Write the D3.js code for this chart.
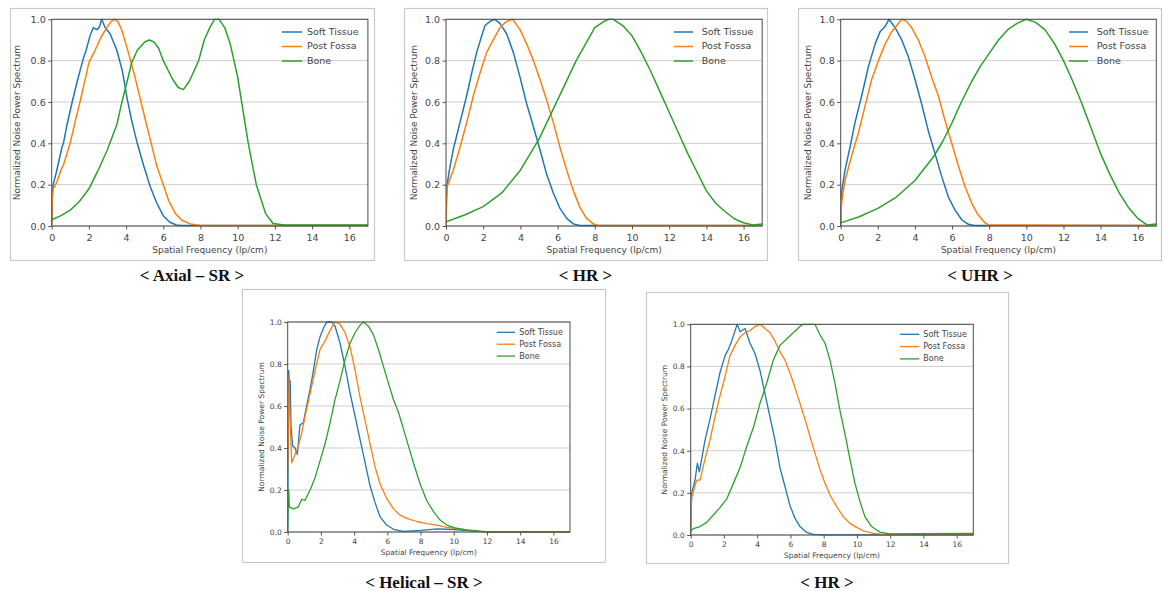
<!DOCTYPE html>
<html><head><meta charset="utf-8">
<script src="https://cdn.jsdelivr.net/npm/d3@7"></script>
<style>body{margin:0;background:#fff} svg{display:block}</style>
</head><body>
<svg id="c" width="1163" height="591"></svg>
<script>
// ---------- DATA ----------
const seriesNames = ["Soft Tissue", "Post Fossa", "Bone"];
const freqTicks = [0, 2, 4, 6, 8, 10, 12, 14, 16];
const nnpsTicks = [0, 0.2, 0.4, 0.6, 0.8, 1.0];
const captions = ["< Axial \u2013 SR >", "< HR >", "< UHR >", "< Helical \u2013 SR >", "< HR >"];
const xLabel = "Spatial Frequency (lp/cm)";
const yLabel = "Normalized Noise Power Spectrum";

// [spatial frequency (lp/cm), normalized NPS]
const axialSoft = [[0,0],[0.03,0.15],[0.08,0.2],[0.25,0.26],[0.45,0.34],[0.55,0.38],[0.63,0.4],[0.8,0.48],[1.1,0.6],[1.4,0.71],[1.7,0.81],[1.85,0.85],[2.06,0.92],[2.24,0.96],[2.42,0.95],[2.55,0.96],[2.69,1.0],[2.87,0.96],[3.14,0.93],[3.5,0.85],[3.8,0.75],[4.05,0.62],[4.3,0.51],[4.6,0.4],[4.95,0.29],[5.3,0.19],[5.65,0.11],[6.0,0.05],[6.35,0.018],[6.7,0.005],[7,0.002],[17,0.002]];
const axialFossa = [[0,0],[0.03,0.14],[0.08,0.18],[0.27,0.21],[0.5,0.27],[0.65,0.3],[0.99,0.4],[1.3,0.52],[1.52,0.6],[1.75,0.69],[2.0,0.79],[2.33,0.85],[2.69,0.92],[2.96,0.96],[3.2,0.99],[3.38,1.0],[3.55,0.99],[3.76,0.95],[4.12,0.84],[4.48,0.72],[4.8,0.6],[5.1,0.49],[5.35,0.4],[5.65,0.29],[6.0,0.2],[6.3,0.12],[6.65,0.06],[7.0,0.028],[7.45,0.01],[8,0.002],[17,0.002]];
const axialBone = [[0,0.03],[0.5,0.05],[1,0.077],[1.5,0.12],[2,0.18],[2.5,0.27],[3,0.37],[3.5,0.49],[3.75,0.59],[4,0.68],[4.3,0.79],[4.6,0.85],[5,0.89],[5.25,0.9],[5.5,0.89],[5.75,0.86],[6,0.8],[6.5,0.71],[6.8,0.67],[7.08,0.66],[7.4,0.7],[7.65,0.75],[7.9,0.8],[8.2,0.9],[8.5,0.96],[8.75,1.0],[9.0,1.0],[9.3,0.96],[9.6,0.88],[10,0.72],[10.3,0.55],[10.57,0.4],[11,0.2],[11.5,0.06],[11.9,0.012],[12.5,0.005],[17,0.005]];

const hrSoft = [[0,0],[0.03,0.14],[0.06,0.2],[0.22,0.29],[0.39,0.37],[0.75,0.5],[1.11,0.63],[1.38,0.74],[1.65,0.84],[1.92,0.92],[2.1,0.97],[2.37,0.99],[2.63,1.0],[2.9,0.98],[3.26,0.93],[3.62,0.84],[3.98,0.72],[4.34,0.59],[4.7,0.48],[5.05,0.37],[5.41,0.25],[5.77,0.16],[6.13,0.085],[6.49,0.037],[6.85,0.01],[7.2,0.002],[17,0.002]];
const hrFossa = [[0,0],[0.03,0.13],[0.06,0.19],[0.39,0.27],[0.75,0.38],[1.11,0.5],[1.47,0.63],[1.83,0.74],[2.19,0.84],[2.54,0.9],[2.9,0.96],[3.26,0.99],[3.58,1.0],[3.98,0.95],[4.34,0.88],[4.7,0.8],[5.05,0.71],[5.41,0.61],[5.77,0.5],[6.13,0.38],[6.49,0.27],[6.85,0.17],[7.2,0.09],[7.56,0.037],[7.92,0.01],[8.2,0.002],[17,0.002]];
const hrBone = [[0,0.02],[1,0.053],[2,0.094],[3,0.16],[4,0.27],[5,0.42],[6,0.61],[7,0.8],[7.5,0.88],[8,0.96],[8.5,0.99],[8.75,1.0],[9,1.0],[9.5,0.97],[10,0.92],[10.5,0.84],[11,0.75],[11.5,0.65],[12,0.55],[12.5,0.45],[13,0.35],[13.5,0.26],[14,0.17],[14.5,0.11],[15,0.07],[15.5,0.035],[16,0.016],[16.5,0.005],[17,0.01]];

const uhrSoft = [[0,0],[0.03,0.12],[0.06,0.17],[0.23,0.27],[0.5,0.38],[0.77,0.5],[1.13,0.63],[1.49,0.77],[1.85,0.88],[2.12,0.94],[2.39,0.965],[2.6,1.0],[2.93,0.96],[3.29,0.9],[3.64,0.82],[4.0,0.71],[4.36,0.59],[4.72,0.46],[5.08,0.35],[5.44,0.24],[5.8,0.14],[6.16,0.077],[6.52,0.03],[6.88,0.008],[7.2,0.002],[17,0.002]];
const uhrFossa = [[0,0],[0.03,0.08],[0.06,0.12],[0.23,0.22],[0.59,0.34],[0.95,0.45],[1.31,0.58],[1.67,0.71],[2.03,0.8],[2.39,0.88],[2.75,0.94],[3.02,0.97],[3.29,1.0],[3.55,0.99],[3.82,0.96],[4.18,0.9],[4.54,0.82],[4.9,0.72],[5.26,0.63],[5.62,0.51],[5.98,0.4],[6.34,0.29],[6.7,0.19],[7.06,0.11],[7.41,0.053],[7.77,0.016],[7.95,0.005],[17,0.002]];
const uhrBone = [[0,0.015],[1,0.045],[2,0.085],[3,0.14],[4,0.22],[5,0.335],[5.5,0.41],[6,0.5],[6.5,0.6],[7,0.69],[7.5,0.77],[8,0.835],[8.5,0.9],[9,0.95],[9.5,0.98],[10,1.0],[10.5,0.985],[11,0.95],[11.5,0.885],[12,0.8],[12.5,0.7],[13,0.59],[13.5,0.47],[14,0.35],[14.5,0.25],[15,0.16],[15.5,0.09],[16,0.037],[16.5,0.005],[17,0.01]];

const helicalSoft = [[0,0],[0.03,0.5],[0.06,0.77],[0.1,0.7],[0.15,0.72],[0.2,0.5],[0.3,0.41],[0.44,0.4],[0.58,0.37],[0.74,0.51],[0.94,0.52],[1.14,0.6],[1.35,0.68],[1.55,0.77],[1.75,0.87],[1.95,0.93],[2.15,0.97],[2.35,1.0],[2.65,1.0],[2.85,0.98],[3.15,0.9],[3.45,0.79],[3.76,0.66],[4.06,0.55],[4.36,0.44],[4.66,0.33],[4.96,0.22],[5.26,0.14],[5.56,0.073],[5.96,0.033],[6.37,0.013],[6.97,0.003],[8,0.008],[9,0.015],[10,0.012],[11,0.005],[12,0.001],[17,0.001]];
const helicalFossa = [[0,0.3],[0.05,0.6],[0.08,0.75],[0.13,0.55],[0.24,0.33],[0.44,0.37],[0.64,0.41],[0.84,0.47],[1.04,0.55],[1.35,0.66],[1.65,0.77],[1.95,0.87],[2.25,0.91],[2.55,0.96],[2.85,1.0],[3.15,0.99],[3.45,0.95],[3.76,0.88],[4.06,0.77],[4.36,0.64],[4.66,0.53],[4.96,0.42],[5.26,0.31],[5.56,0.23],[5.96,0.16],[6.37,0.11],[6.77,0.08],[7.17,0.065],[7.77,0.05],[8.37,0.04],[8.98,0.033],[9.58,0.022],[10.18,0.016],[10.78,0.01],[11.5,0.004],[12,0.001],[17,0.001]];
const helicalBone = [[0,0],[0.03,0.15],[0.06,0.2],[0.1,0.12],[0.34,0.11],[0.64,0.12],[0.84,0.155],[1.04,0.15],[1.35,0.2],[1.65,0.26],[1.95,0.34],[2.25,0.42],[2.55,0.52],[2.85,0.63],[3.15,0.72],[3.45,0.82],[3.76,0.9],[4.06,0.95],[4.36,0.985],[4.56,1.0],[4.86,0.98],[5.16,0.94],[5.46,0.87],[5.76,0.79],[6.06,0.71],[6.37,0.63],[6.67,0.57],[6.97,0.49],[7.27,0.41],[7.57,0.33],[7.97,0.23],[8.37,0.15],[8.78,0.097],[9.18,0.057],[9.58,0.033],[10.08,0.02],[10.78,0.01],[11.5,0.004],[12,0.001],[17,0.001]];

const hr2Soft = [[0,0],[0.03,0.12],[0.06,0.2],[0.26,0.26],[0.4,0.34],[0.52,0.3],[0.66,0.36],[0.86,0.45],[1.16,0.55],[1.46,0.66],[1.76,0.77],[2.06,0.85],[2.26,0.88],[2.46,0.92],[2.67,0.97],[2.8,1.0],[2.97,0.965],[3.27,0.98],[3.57,0.91],[3.87,0.86],[4.17,0.78],[4.47,0.67],[4.77,0.56],[5.07,0.45],[5.37,0.32],[5.67,0.23],[5.97,0.14],[6.27,0.08],[6.57,0.04],[6.97,0.013],[7.37,0.003],[8,0.001],[17,0.001]];
const hr2Fossa = [[0,0],[0.03,0.1],[0.06,0.18],[0.36,0.26],[0.56,0.26],[0.86,0.36],[1.16,0.45],[1.46,0.56],[1.76,0.66],[2.06,0.75],[2.36,0.85],[2.67,0.9],[2.97,0.94],[3.27,0.96],[3.57,0.97],[3.87,0.99],[4.17,1.0],[4.47,0.98],[4.77,0.96],[5.07,0.92],[5.37,0.87],[5.67,0.83],[5.97,0.77],[6.27,0.7],[6.57,0.625],[6.87,0.55],[7.17,0.47],[7.47,0.39],[7.78,0.31],[8.08,0.245],[8.38,0.19],[8.78,0.135],[9.18,0.087],[9.58,0.055],[9.98,0.036],[10.38,0.02],[10.98,0.008],[11.58,0.003],[12,0.004],[17,0.005]];
const hr2Bone = [[0,0.02],[0.16,0.03],[0.56,0.04],[0.96,0.06],[1.36,0.095],[1.76,0.13],[2.16,0.17],[2.57,0.245],[2.97,0.32],[3.37,0.42],[3.77,0.51],[4.17,0.625],[4.57,0.72],[4.97,0.83],[5.37,0.9],[5.77,0.93],[6.17,0.96],[6.57,0.99],[6.77,1.0],[7.17,1.0],[7.47,1.0],[7.78,0.95],[8.08,0.91],[8.38,0.83],[8.68,0.72],[8.98,0.59],[9.28,0.48],[9.58,0.36],[9.88,0.245],[10.18,0.16],[10.48,0.087],[10.88,0.04],[11.38,0.014],[11.98,0.005],[14,0.006],[17,0.008]];

// ---------- LAYOUT ----------
const colors = ["#1f77b4", "#ff7f0e", "#2ca02c"];
const panels = [
  {series:[axialSoft, axialFossa, axialBone], caption:captions[0], frame:[10,8,374,260], plot:[51.7,19.3,367.9,226], cap:[192,281], tf:9.5, lf:9, gf:9.5, lw:1.5, leg:[282,302,307,32,14.5], ylx:17, xly:250, xty:238},
  {series:[hrSoft, hrFossa, hrBone], caption:captions[1], frame:[404,8,767,260], plot:[446,19.3,762.2,226], cap:[585.5,281], tf:9.5, lf:9, gf:9.5, lw:1.5, leg:[674,693,701.7,32,14.5], ylx:414, xly:250, xty:238},
  {series:[uhrSoft, uhrFossa, uhrBone], caption:captions[2], frame:[798,8,1161,260], plot:[840.7,19.3,1156.3,226], cap:[980,281], tf:9.5, lf:9, gf:9.5, lw:1.5, leg:[1069,1088,1096.7,32,14.5], ylx:808, xly:250, xty:238},
  {series:[helicalSoft, helicalFossa, helicalBone], caption:captions[3], frame:[242,289,605,562], plot:[287.7,322,570,532], cap:[424,588], tf:7.5, lf:7.5, gf:8, lw:1.3, leg:[496.7,515,519.3,332.3,11.9], ylx:261.7, xly:553, xty:542},
  {series:[hr2Soft, hr2Fossa, hr2Bone], caption:captions[4], frame:[646,292,1008,563], plot:[690.7,324.3,973.3,535], cap:[827,588], tf:7.5, lf:7.5, gf:8, lw:1.3, leg:[900,919.3,923.3,334.3,12.3], ylx:665, xly:556, xty:545}
];

const svg = d3.select("#c");
const FONT = "DejaVu Sans, Arial, sans-serif";

panels.forEach((p, i) => {
  const g = svg.append("g");
  const [fx0, fy0, fx1, fy1] = p.frame;
  g.append("rect").attr("x", fx0 + 0.5).attr("y", fy0 + 0.5)
    .attr("width", fx1 - fx0).attr("height", fy1 - fy0)
    .attr("fill", "#fff").attr("stroke", "#c9c9c9").attr("stroke-width", 1.2);

  const [x0, y0, x1, y1] = p.plot;
  const x = d3.scaleLinear().domain([0, 17]).range([x0, x1]);
  const y = d3.scaleLinear().domain([0, 1]).range([y1, y0]);

  // grid
  g.append("g").selectAll("line").data(nnpsTicks).join("line")
    .attr("x1", x0).attr("x2", x1)
    .attr("y1", d => y(d)).attr("y2", d => y(d))
    .attr("stroke", "#cfcfcf").attr("stroke-width", 1);

  // curves
  const clipId = "clip" + i;
  g.append("clipPath").attr("id", clipId).append("rect")
    .attr("x", x0).attr("y", y0 - 1).attr("width", x1 - x0).attr("height", y1 - y0 + 2);
  const line = d3.line().x(d => x(d[0])).y(d => y(d[1]));
  p.series.forEach((s, k) => {
    g.append("path").datum(s).attr("d", line)
      .attr("fill", "none").attr("stroke", colors[k]).attr("stroke-width", p.lw)
      .attr("stroke-linejoin", "round").attr("clip-path", `url(#${clipId})`);
  });

  // axes
  const xAxis = g.append("g").attr("transform", `translate(0,${y1})`)
    .call(d3.axisBottom(x).tickValues(freqTicks).tickSize(3.5).tickPadding(2).tickFormat(d3.format("d")));
  const yAxis = g.append("g").attr("transform", `translate(${x0},0)`)
    .call(d3.axisLeft(y).tickValues(nnpsTicks).tickSize(3.5).tickPadding(2.5).tickFormat(d3.format(".1f")));
  [xAxis, yAxis].forEach(a => {
    a.select(".domain").remove();
    a.selectAll(".tick line").attr("stroke", "#555");
    a.selectAll("text").attr("font-family", FONT).attr("font-size", p.tf).attr("fill", "#444");
  });
  xAxis.selectAll("text").attr("dy", null).attr("y", p.xty - y1).attr("dominant-baseline", "middle");

  // spines
  g.append("rect").attr("x", x0).attr("y", y0).attr("width", x1 - x0).attr("height", y1 - y0)
    .attr("fill", "none").attr("stroke", "#4a4a4a").attr("stroke-width", 1);

  // axis labels
  g.append("text").attr("x", (x0 + x1) / 2).attr("y", p.xly)
    .attr("text-anchor", "middle").attr("dominant-baseline", "middle")
    .attr("font-family", FONT).attr("font-size", p.lf).attr("fill", "#444").text(xLabel);
  g.append("text").attr("transform", `translate(${p.ylx},${(y0 + y1) / 2}) rotate(-90)`)
    .attr("text-anchor", "middle").attr("dominant-baseline", "middle")
    .attr("font-family", FONT).attr("font-size", p.lf).attr("fill", "#444").text(yLabel);

  // legend
  const [lx0, lx1, tx, ly, dy] = p.leg;
  seriesNames.forEach((name, k) => {
    const yy = ly + k * dy;
    g.append("line").attr("x1", lx0).attr("x2", lx1).attr("y1", yy).attr("y2", yy)
      .attr("stroke", colors[k]).attr("stroke-width", p.lw);
    g.append("text").attr("x", tx).attr("y", yy).attr("dominant-baseline", "middle")
      .attr("font-family", FONT).attr("font-size", p.gf).attr("fill", "#444").text(name);
  });

  // caption
  svg.append("text").attr("x", p.cap[0]).attr("y", p.cap[1])
    .attr("text-anchor", "middle")
    .attr("font-family", "Liberation Serif, Times New Roman, serif")
    .attr("font-weight", "bold").attr("font-size", 17).attr("fill", "#111")
    .text(p.caption);
});
</script>
</body></html>
